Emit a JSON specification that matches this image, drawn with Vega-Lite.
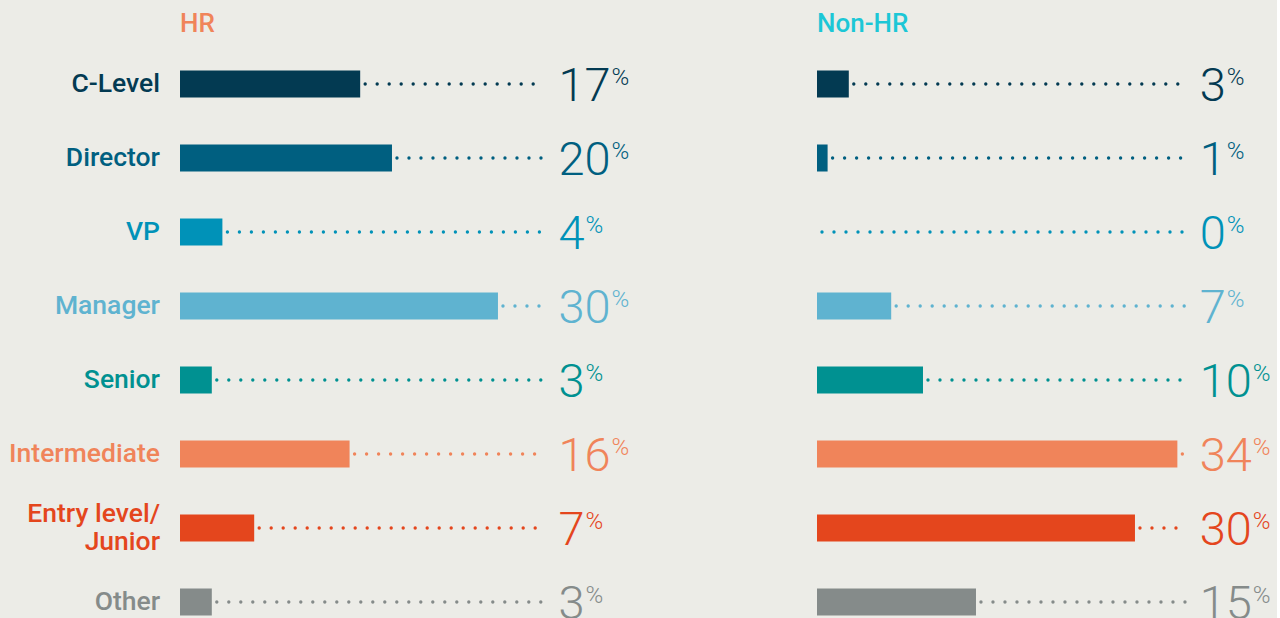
{
  "$schema": "https://vega.github.io/schema/vega-lite/v6.json",
  "background": "#ECECE7",
  "padding": {"left": 9, "top": 11, "right": 0, "bottom": 0},
  "config": {"view": {"stroke": null}, "font": "Roboto"},
  "spacing": 175,
  "data": {"values": [
    {"group": "HR", "level": "C-Level", "value": 17},
    {"group": "HR", "level": "Director", "value": 20},
    {"group": "HR", "level": "VP", "value": 4},
    {"group": "HR", "level": "Manager", "value": 30},
    {"group": "HR", "level": "Senior", "value": 3},
    {"group": "HR", "level": "Intermediate", "value": 16},
    {"group": "HR", "level": "Entry level/\nJunior", "value": 7},
    {"group": "HR", "level": "Other", "value": 3},
    {"group": "Non-HR", "level": "C-Level", "value": 3},
    {"group": "Non-HR", "level": "Director", "value": 1},
    {"group": "Non-HR", "level": "VP", "value": 0},
    {"group": "Non-HR", "level": "Manager", "value": 7},
    {"group": "Non-HR", "level": "Senior", "value": 10},
    {"group": "Non-HR", "level": "Intermediate", "value": 34},
    {"group": "Non-HR", "level": "Entry level/\nJunior", "value": 30},
    {"group": "Non-HR", "level": "Other", "value": 15}
  ]},
  "hconcat": [
    {
      "width": 460,
      "height": 592,
      "title": {"text": "HR", "anchor": "start", "frame": "group", "fontSize": 26, "fontWeight": 500, "color": "#F0845A", "offset": 10},
      "transform": [{"filter": "datum.group === 'HR'"}],
      "encoding": {
        "y": {"field": "level", "type": "nominal", "axis": null, "scale": {"domain": ["C-Level", "Director", "VP", "Manager", "Senior", "Intermediate", "Entry level/\nJunior", "Other"], "paddingInner": 0, "paddingOuter": 0}},
        "color": {"field": "level", "type": "nominal", "legend": null, "scale": {"domain": ["C-Level", "Director", "VP", "Manager", "Senior", "Intermediate", "Entry level/\nJunior", "Other"], "range": ["#033A52", "#005F80", "#0092B8", "#5FB3D0", "#009191", "#F0845A", "#E4461D", "#858B8A"]}}
      },
      "layer": [
        {"mark": {"type": "rule", "strokeWidth": 3.4, "strokeCap": "round", "strokeDash": [0, 12], "strokeDashOffset": 7},
         "encoding": {"x": {"field": "value", "type": "quantitative", "axis": null, "scale": {"domain": [0, 43.4], "nice": false, "zero": true}}, "x2": {"datum": 34.3}}},
        {"mark": {"type": "bar", "size": 27},
         "encoding": {"x": {"field": "value", "type": "quantitative", "axis": null}}},
        {"mark": {"type": "text", "align": "left", "baseline": "alphabetic", "fontSize": 47, "fontWeight": 300, "dy": 17},
         "encoding": {"x": {"datum": 35.7}, "text": {"field": "value", "type": "quantitative"}}},
        {"transform": [{"filter": "datum.value < 10"}],
         "mark": {"type": "text", "align": "left", "baseline": "alphabetic", "fontSize": 24, "fontWeight": 300, "dx": 27, "dy": 1},
         "encoding": {"x": {"datum": 35.7}, "text": {"value": "%"}}},
        {"transform": [{"filter": "datum.value >= 10"}],
         "mark": {"type": "text", "align": "left", "baseline": "alphabetic", "fontSize": 24, "fontWeight": 300, "dx": 53, "dy": 1},
         "encoding": {"x": {"datum": 35.7}, "text": {"value": "%"}}},
        {"transform": [{"filter": "datum.level !== 'Entry level/\\nJunior'"}],
         "mark": {"type": "text", "align": "right", "baseline": "middle", "fontSize": 26.5, "fontWeight": 500, "dx": -20},
         "encoding": {"x": {"datum": 0}, "text": {"field": "level", "type": "nominal"}}},
        {"transform": [{"filter": "datum.level === 'Entry level/\\nJunior'"}],
         "mark": {"type": "text", "align": "right", "baseline": "middle", "fontSize": 26.5, "fontWeight": 500, "dx": -20, "dy": -14, "lineBreak": "\n", "lineHeight": 28},
         "encoding": {"x": {"datum": 0}, "text": {"field": "level", "type": "nominal"}}}
      ]
    },
    {
      "width": 460,
      "height": 592,
      "title": {"text": "Non-HR", "anchor": "start", "frame": "group", "fontSize": 26, "fontWeight": 500, "color": "#1CC7D6", "offset": 10},
      "transform": [{"filter": "datum.group === 'Non-HR'"}],
      "encoding": {
        "y": {"field": "level", "type": "nominal", "axis": null, "scale": {"domain": ["C-Level", "Director", "VP", "Manager", "Senior", "Intermediate", "Entry level/\nJunior", "Other"], "paddingInner": 0, "paddingOuter": 0}},
        "color": {"field": "level", "type": "nominal", "legend": null, "scale": {"domain": ["C-Level", "Director", "VP", "Manager", "Senior", "Intermediate", "Entry level/\nJunior", "Other"], "range": ["#033A52", "#005F80", "#0092B8", "#5FB3D0", "#009191", "#F0845A", "#E4461D", "#858B8A"]}}
      },
      "layer": [
        {"mark": {"type": "rule", "strokeWidth": 3.4, "strokeCap": "round", "strokeDash": [0, 12], "strokeDashOffset": 7},
         "encoding": {"x": {"field": "value", "type": "quantitative", "axis": null, "scale": {"domain": [0, 43.4], "nice": false, "zero": true}}, "x2": {"datum": 34.8}}},
        {"mark": {"type": "bar", "size": 27},
         "encoding": {"x": {"field": "value", "type": "quantitative", "axis": null}}},
        {"mark": {"type": "text", "align": "left", "baseline": "alphabetic", "fontSize": 47, "fontWeight": 300, "dy": 17},
         "encoding": {"x": {"datum": 36.1}, "text": {"field": "value", "type": "quantitative"}}},
        {"transform": [{"filter": "datum.value < 10"}],
         "mark": {"type": "text", "align": "left", "baseline": "alphabetic", "fontSize": 24, "fontWeight": 300, "dx": 27, "dy": 1},
         "encoding": {"x": {"datum": 36.1}, "text": {"value": "%"}}},
        {"transform": [{"filter": "datum.value >= 10"}],
         "mark": {"type": "text", "align": "left", "baseline": "alphabetic", "fontSize": 24, "fontWeight": 300, "dx": 53, "dy": 1},
         "encoding": {"x": {"datum": 36.1}, "text": {"value": "%"}}}
      ]
    }
  ]
}
